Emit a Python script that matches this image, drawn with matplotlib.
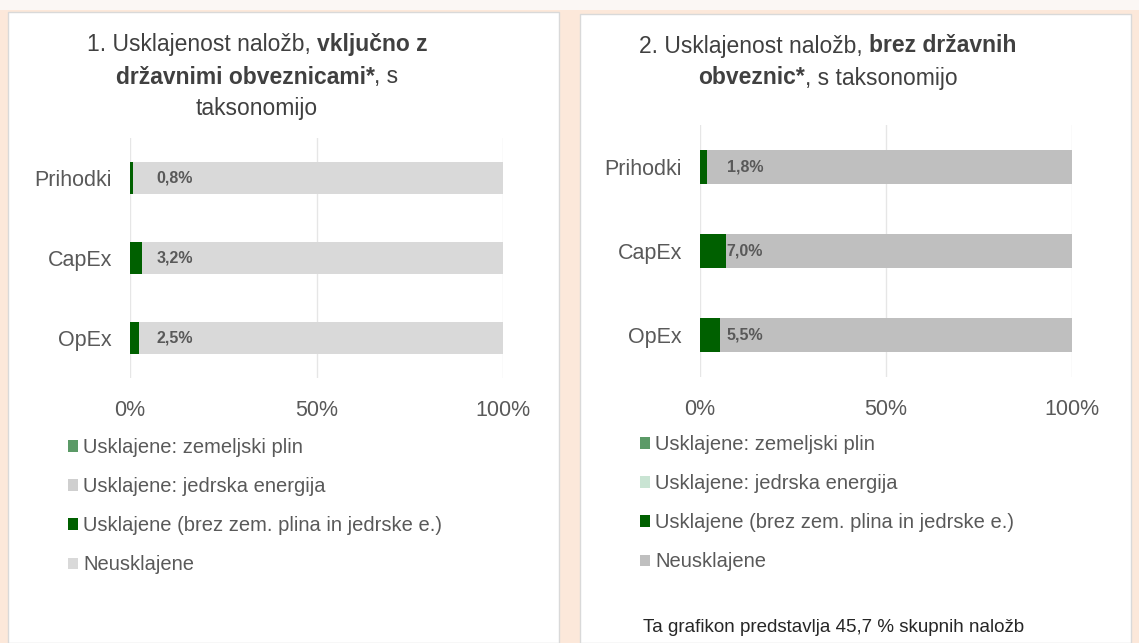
import numpy as np
import matplotlib
matplotlib.use("Agg")
import matplotlib.pyplot as plt
from matplotlib.patches import Rectangle, Patch

plt.rcParams['font.family'] = ['Liberation Sans', 'DejaVu Sans']

# podatki
kategorije = ['Prihodki', 'CapEx', 'OpEx']
serije = ['Usklajene: zemeljski plin', 'Usklajene: jedrska energija',
          'Usklajene (brez zem. plina in jedrske e.)', 'Neusklajene']

# graf 1: vključno z državnimi obveznicami
plin_1 = [0.0, 0.0, 0.0]
jedrska_1 = [0.0, 0.0, 0.0]
uskl_1 = [0.8, 3.2, 2.5]
neuskl_1 = [99.2, 96.8, 97.5]

# graf 2: brez državnih obveznic
plin_2 = [0.0, 0.0, 0.0]
jedrska_2 = [0.0, 0.0, 0.0]
uskl_2 = [1.8, 7.0, 5.5]
neuskl_2 = [98.2, 93.0, 94.5]

x_ticks = [0, 50, 100]
x_ticklabels = ['0%', '50%', '100%']
opomba = 'Ta grafikon predstavlja 45,7 % skupnih naložb'

W, H = 1139, 643
fig = plt.figure(figsize=(W / 100, H / 100), dpi=100)
fig.patch.set_facecolor('#fce8da')

# ozadje in kartice
fig.patches.append(Rectangle((0, 1 - 10 / H), 1, 10 / H, transform=fig.transFigure,
                             facecolor='#fbf7f4', edgecolor='none', zorder=-2))
fig.patches.append(Rectangle((8 / W, 0), 551 / W, 1 - 12 / H, transform=fig.transFigure,
                             facecolor='white', edgecolor='#d9d9d9', lw=1, zorder=-1))
fig.patches.append(Rectangle((580 / W, 0), 551 / W, 1 - 14 / H, transform=fig.transFigure,
                             facecolor='white', edgecolor='#d9d9d9', lw=1, zorder=-1))

siva = '#595959'


def naslov(xc, y, vrstice, size=16.5):
    r = fig.canvas.get_renderer()
    presledek = 0.278 * size * 100 / 72
    for i, deli in enumerate(vrstice):
        texts = []
        for s, w in deli:
            t = fig.text(0, 1 - (y + i * 32) / H, s, weight=w, size=size,
                         color='#404040', ha='left', va='center')
            texts.append(t)
        sirine = [t.get_window_extent(r).width for t in texts]
        # presledek samo pred besedo, ne pred ločilom
        gap = [0] + [0 if s[0] in ',.' else presledek for s, w in deli[1:]]
        skupaj = sum(sirine) + sum(gap)
        x = xc - skupaj / 2
        for t, sw, g in zip(texts, sirine, gap):
            x += g
            t.set_x(x / W)
            x += sw


def graf(rect, plin, jedrska, uskl, neuskl, barve, leg_xy):
    ax = fig.add_axes(rect)
    y = np.arange(len(kategorije))
    levo = np.zeros(len(kategorije))
    vrednosti = [plin, jedrska, uskl, neuskl]
    for ime, v, c in zip(serije, vrednosti, barve):
        ax.barh(y, v, left=levo, height=0.4, color=c, label=ime, zorder=2)
        levo = levo + np.array(v)
    for yi, v in zip(y, uskl):
        ax.text(7.2, yi, f'{v:.1f}%'.replace('.', ','), ha='left', va='center',
                fontsize=11.5, weight='bold', color=siva, zorder=3)
    ax.set_xlim(0, 100)
    ax.set_ylim(2.5, -0.5)
    ax.set_xticks(x_ticks)
    ax.set_xticklabels(x_ticklabels)
    ax.set_yticks(y)
    ax.set_yticklabels(kategorije)
    ax.tick_params(length=0, labelsize=15.5, colors=siva)
    ax.tick_params(axis='x', pad=16)
    ax.tick_params(axis='y', pad=13)
    ax.grid(axis='x', color='#e6e6e6', lw=1, zorder=0)
    for s in ax.spines.values():
        s.set_visible(False)
    ax.set_facecolor('none')
    handles = [Patch(facecolor=c) for c in barve]
    fig.legend(handles, serije, loc='upper left',
               bbox_to_anchor=(leg_xy[0] / W, 1 - leg_xy[1] / H),
               frameon=False, fontsize=14.5, labelcolor=siva,
               handlelength=0.5, handleheight=0.5, handletextpad=0.25,
               labelspacing=1.0, borderaxespad=0, borderpad=0)
    return ax


barve_1 = ['#5b9a67', '#cfcfcf', '#006000', '#d9d9d9']
barve_2 = ['#5b9a67', '#c9e4d3', '#006000', '#bfbfbf']

graf([130 / W, 1 - 378 / H, 373 / W, 240 / H], plin_1, jedrska_1, uskl_1, neuskl_1,
     barve_1, (68, 438))
graf([700 / W, 1 - 377 / H, 372 / W, 252 / H], plin_2, jedrska_2, uskl_2, neuskl_2,
     barve_2, (640, 435))

naslov(257, 45, [[('1. Usklajenost naložb,', 'normal'), ('vključno z', 'bold')],
                 [('državnimi obveznicami*', 'bold'), (', s', 'normal')],
                 [('taksonomijo', 'normal')]])
naslov(828, 46, [[('2. Usklajenost naložb,', 'normal'), ('brez državnih', 'bold')],
                 [('obveznic*', 'bold'), (', s taksonomijo', 'normal')]])

fig.text(643 / W, 1 - 627 / H, opomba, fontsize=13.5, color='#262626', ha='left', va='center')

fig.savefig('out.png', dpi=100, facecolor=fig.get_facecolor())
